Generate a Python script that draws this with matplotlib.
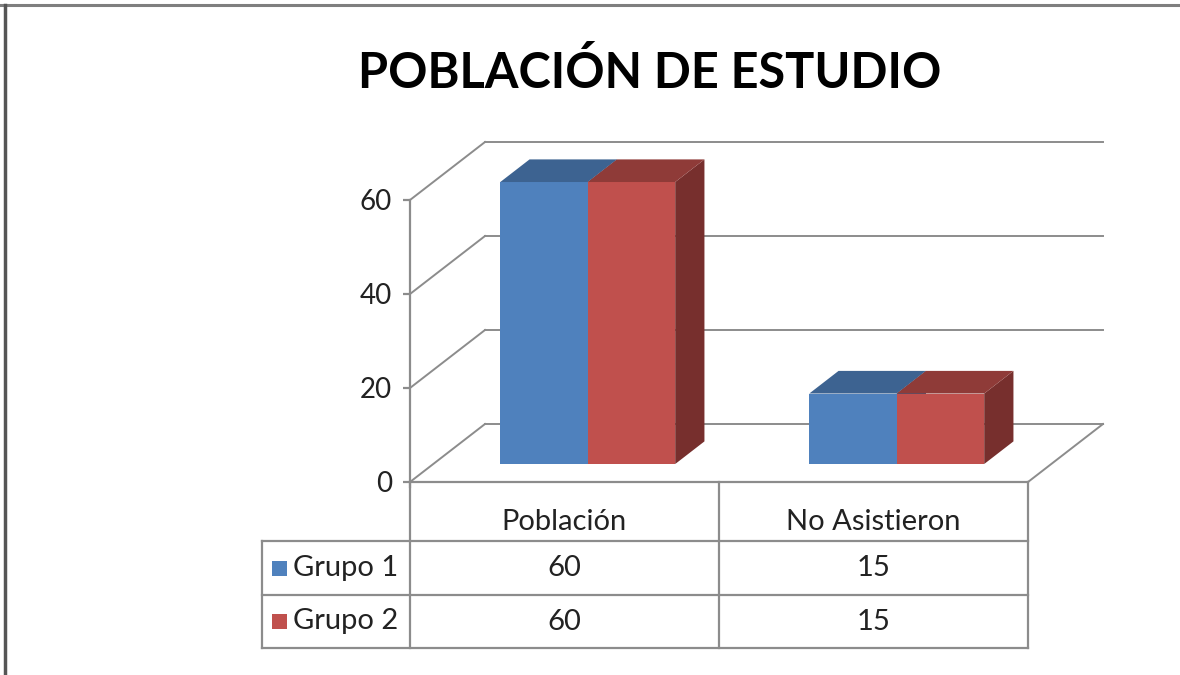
import matplotlib
matplotlib.use("Agg")
import matplotlib.pyplot as plt
from matplotlib.patches import Polygon, Rectangle
from matplotlib.lines import Line2D

# data
categories = ["Población", "No Asistieron"]
series = ["Grupo 1", "Grupo 2"]
grupo1 = [60, 15]
grupo2 = [60, 15]
yticks = [0, 20, 40, 60]
title = "POBLACIÓN DE ESTUDIO"

front_colors = ["#4F81BD", "#C0504D"]
top_colors = ["#3D6391", "#8F3B38"]
side_colors = ["#3A5A82", "#772F2D"]
grid_color = "#8C8C8C"
font = "Lato"

W, H = 1180, 675
fig = plt.figure(figsize=(W / 100, H / 100), dpi=100)
fig.patch.set_facecolor("white")

# pixel layout of the plot box
px_x0, px_y0 = 410, 482          # front-left corner of the floor
px_cat, px_unit = 309, 4.7       # pixels per category, per value unit
xmax, ymax = 2.3, 75
ax = fig.add_axes([px_x0 / W, (H - px_y0) / H, xmax * px_cat / W, ymax * px_unit / H])
ax.set_xlim(0, xmax)
ax.set_ylim(0, ymax)
ax.set_facecolor("none")
for s in ["top", "right", "bottom"]:
    ax.spines[s].set_visible(False)
ax.spines["left"].set_bounds(-1, 60)
ax.spines["left"].set_color(grid_color)
ax.spines["left"].set_linewidth(1.6)
ax.set_xticks([])
ax.set_yticks(yticks)
ax.tick_params(axis="y", length=5, width=1.6, color=grid_color, pad=8,
               labelsize=20, labelcolor="#222222")
for lab in ax.get_yticklabels():
    lab.set_fontfamily(font)

# depth of the 3D box in data units
ddx = 75 / px_cat
ddy = 58 / px_unit
ncat = len(categories)

# walls and floor
for v in yticks:
    ax.plot([0, ddx], [v, v + ddy], color=grid_color, lw=1.4, zorder=1, clip_on=False)
    ax.plot([ddx, ncat + ddx], [v + ddy, v + ddy], color=grid_color, lw=1.4, zorder=1, clip_on=False)
ax.plot([ncat, ncat + ddx], [0, ddy], color=grid_color, lw=1.4, zorder=1, clip_on=False)

# bars
bar_w = 0.283
f_d, b_d = 0.31, 0.70
for i in range(ncat):
    for k, vals in enumerate([grupo1, grupo2]):
        h = vals[i]
        x0 = i + 0.5 - bar_w + k * bar_w
        fx, fy = f_d * ddx, f_d * ddy
        bx, by = b_d * ddx, b_d * ddy
        front = Rectangle((x0 + fx, fy), bar_w, h, facecolor=front_colors[k],
                          edgecolor="none", zorder=3 + k)
        top = Polygon([(x0 + fx, h + fy), (x0 + bar_w + fx, h + fy),
                       (x0 + bar_w + bx, h + by), (x0 + bx, h + by)],
                      closed=True, facecolor=top_colors[k], edgecolor="none", zorder=3 + k)
        side = Polygon([(x0 + bar_w + fx, fy), (x0 + bar_w + bx, by),
                        (x0 + bar_w + bx, h + by), (x0 + bar_w + fx, h + fy)],
                       closed=True, facecolor=side_colors[k], edgecolor="none", zorder=2.9 + k)
        ax.add_patch(side)
        ax.add_patch(front)
        ax.add_patch(top)

# data table below the plot
row_h = [59 / px_unit, 54 / px_unit, 53 / px_unit]
legend_x = (262 - px_x0) / px_cat
r1 = -row_h[0]
r2 = r1 - row_h[1]
r3 = r2 - row_h[2]
lk = dict(color=grid_color, lw=1.6, zorder=1, clip_on=False)
ax.plot([0, ncat], [0, 0], **lk)
for y in [r1, r2, r3]:
    ax.plot([legend_x, ncat], [y, y], **lk)
for x in range(ncat + 1):
    ax.plot([x, x], [0, r3], **lk)
ax.plot([legend_x, legend_x], [r1, r3], **lk)

tk = dict(fontsize=21, fontfamily=font, color="#222222", ha="center", va="center", clip_on=False)
for i, c in enumerate(categories):
    ax.text(i + 0.5, -40 / px_unit, c, **tk)
for j, (name, vals) in enumerate(zip(series, [grupo1, grupo2])):
    yc = [(r1 + r2) / 2, (r2 + r3) / 2][j]
    for i, v in enumerate(vals):
        ax.text(i + 0.5, yc, str(v), **tk)
    sq = 15 / px_cat
    ax.add_patch(Rectangle((legend_x + 10 / px_cat, yc - 7.5 / px_unit), sq, 15 / px_unit,
                           facecolor=front_colors[j], edgecolor="none", clip_on=False))
    ax.text(legend_x + 31 / px_cat, yc, name, fontsize=21, fontfamily=font,
            color="#222222", ha="left", va="center", clip_on=False)

fig.text(650 / W, 1 - 72 / H, title, fontsize=35, fontweight="bold", fontfamily=font,
         color="black", ha="center", va="center")

# outer frame (top and left)
fig.add_artist(Line2D([0, 1], [1 - 5 / H, 1 - 5 / H], color="#7F7F7F", lw=2.2))
fig.add_artist(Line2D([5 / W, 5 / W], [0, 1 - 5 / H], color="#555555", lw=2.5))

fig.savefig("out.png", dpi=100)
